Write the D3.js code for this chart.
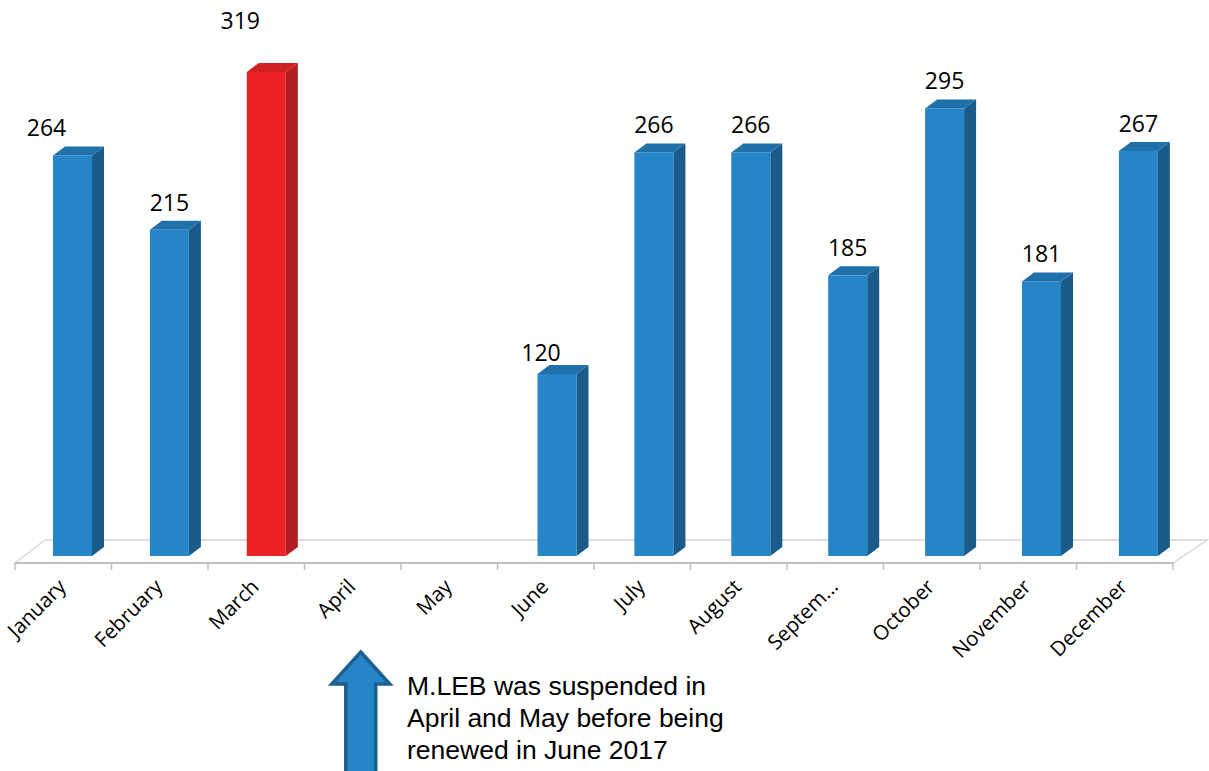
<!DOCTYPE html>
<html>
<head>
<meta charset="utf-8">
<script src="https://cdn.jsdelivr.net/npm/d3@7/dist/d3.min.js"></script>
<style>
  html, body { margin: 0; padding: 0; background: #ffffff; }
  svg { display: block; }
</style>
</head>
<body>
<svg id="chart" width="1209" height="771"></svg>
<script>
// ---------------- data ----------------
const months = ["January", "February", "March", "April", "May", "June",
                "July", "August", "September", "October", "November", "December"];
const tickLabels = ["January", "February", "March", "April", "May", "June",
                    "July", "August", "Septem...", "October", "November", "December"];
const values = [264, 215, 319, null, null, 120, 266, 266, 185, 295, 181, 267];
const highlightMonth = "March";
const noteLines = ["M.LEB was suspended in", "April and May before being", "renewed in June 2017"];

// ---------------- layout ----------------
const W = 1209, H = 771;
const floorFrontY = 563, floorBackY = 540;
const floorLeft = 15, floorRight = 1173;
const backDxLeft = 30, backDxRight = 34;
const barBaseY = 556;
const depthDx = 12, depthDy = -9;
const barW = 39;
// manual label nudges (as placed in the original)
const labelNudge = { January: [-26, 0], March: [-26, -24], June: [-16, 6] };

const colors = {
  blue:  { front: "#2585c6", side: "#1a5b8a", top: "#2070a9" },
  red:   { front: "#ed2226", side: "#b01d22", top: "#cf2024" }
};

const svg = d3.select("#chart");

const xTick = d3.scaleBand().domain(months).range([floorLeft, floorRight]);
const xBar = d3.scaleBand().domain(months).range([53, 53 + 12 * 96.9]);
const y = d3.scaleLinear().domain([0, 319]).range([barBaseY, 72]);

// floor
svg.append("polygon")
  .attr("points", [
    [floorLeft, floorFrontY],
    [floorLeft + backDxLeft, floorBackY],
    [floorRight + backDxRight, floorBackY],
    [floorRight, floorFrontY]
  ].map(p => p.join(",")).join(" "))
  .attr("fill", "none")
  .attr("stroke", "#d4d4d4")
  .attr("stroke-width", 1.3);

svg.append("line")
  .attr("x1", floorLeft).attr("x2", floorRight)
  .attr("y1", floorFrontY).attr("y2", floorFrontY)
  .attr("stroke", "#bfbfbf").attr("stroke-width", 2);

// ticks
const tickXs = months.map(m => xTick(m)).concat([floorRight]);
svg.append("g").selectAll("line").data(tickXs).join("line")
  .attr("x1", d => d).attr("x2", d => d)
  .attr("y1", floorFrontY).attr("y2", floorFrontY + 7)
  .attr("stroke", "#bfbfbf").attr("stroke-width", 1.5);

// bars
const barData = months.map((m, i) => ({ m, v: values[i] })).filter(d => d.v != null);
const bars = svg.append("g").selectAll("g").data(barData).join("g");

bars.each(function(d) {
  const g = d3.select(this);
  const c = d.m === highlightMonth ? colors.red : colors.blue;
  const x0 = xBar(d.m), x1 = x0 + barW, yt = y(d.v), yb = barBaseY;
  g.append("polygon")
    .attr("points", [[x1, yt], [x1 + depthDx, yt + depthDy], [x1 + depthDx, yb + depthDy], [x1, yb]]
      .map(p => p.join(",")).join(" "))
    .attr("fill", c.side);
  g.append("polygon")
    .attr("points", [[x0, yt], [x0 + depthDx, yt + depthDy], [x1 + depthDx, yt + depthDy], [x1, yt]]
      .map(p => p.join(",")).join(" "))
    .attr("fill", c.top);
  g.append("rect")
    .attr("x", x0).attr("y", yt)
    .attr("width", barW).attr("height", yb - yt)
    .attr("fill", c.front);
});

// value labels
svg.append("g").selectAll("text").data(barData).join("text")
  .attr("x", d => xBar(d.m) + barW / 2 + (labelNudge[d.m] ? labelNudge[d.m][0] : 0))
  .attr("y", d => y(d.v) - 19 + (labelNudge[d.m] ? labelNudge[d.m][1] : 0))
  .attr("text-anchor", "middle")
  .attr("font-family", "'Open Sans', sans-serif")
  .attr("font-size", 23)
  .attr("fill", "#000")
  .text(d => d.v);

// category labels
svg.append("g").selectAll("text").data(months).join("text")
  .attr("transform", d => `translate(${xTick(d) + xTick.bandwidth() / 2 + 4},${588}) rotate(-45)`)
  .attr("text-anchor", "end")
  .attr("font-family", "'Open Sans', sans-serif")
  .attr("font-size", 20.5)
  .attr("fill", "#000")
  .text((d, i) => tickLabels[i]);

// annotation arrow
const ax = xTick("April") + xTick.bandwidth() / 2 + 8;
const tipY = 652, headBaseY = 684, headHalf = 29, shaftHalf = 15, bottomY = 780;
svg.append("polygon")
  .attr("points", [
    [ax, tipY], [ax + headHalf, headBaseY], [ax + shaftHalf, headBaseY],
    [ax + shaftHalf, bottomY], [ax - shaftHalf, bottomY], [ax - shaftHalf, headBaseY],
    [ax - headHalf, headBaseY]
  ].map(p => p.join(",")).join(" "))
  .attr("fill", "#2585c6")
  .attr("stroke", "#1d5f8f")
  .attr("stroke-width", 3.5)
  .attr("stroke-linejoin", "miter");

svg.append("g").selectAll("text").data(noteLines).join("text")
  .attr("x", 407)
  .attr("y", (d, i) => 695 + i * 32)
  .attr("font-family", "'Liberation Sans', Arial, sans-serif")
  .attr("font-size", 26.5)
  .attr("fill", "#000")
  .text(d => d);
</script>
</body>
</html>
